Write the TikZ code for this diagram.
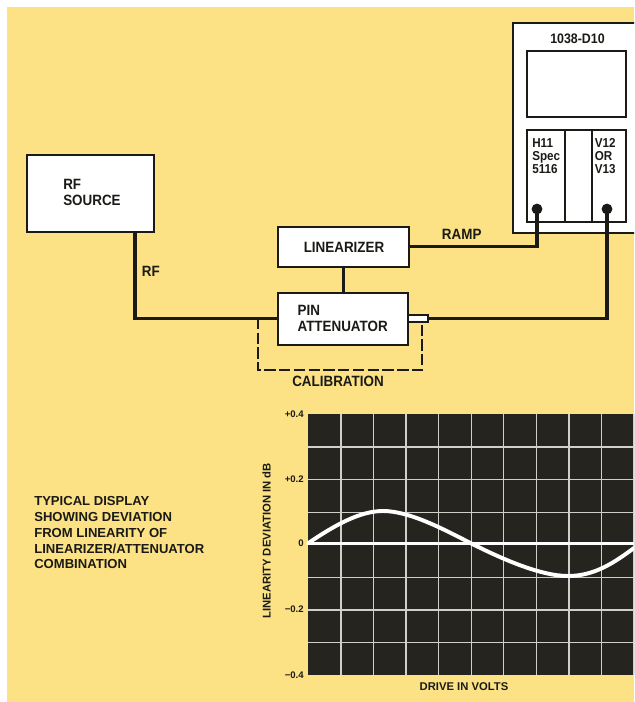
\documentclass[tikz,border=0pt]{standalone}
\usepackage{fontspec}
\setmainfont{Liberation Sans}
\newfontfamily\narrowsans{Liberation Sans}[FakeStretch=0.9]
\usetikzlibrary{positioning, calc}
\definecolor{paper}{RGB}{252, 226, 132}
\definecolor{ink}{RGB}{26, 26, 22}
\definecolor{screenbg}{RGB}{38, 36, 30}
\definecolor{gridline}{RGB}{208, 208, 200}

\tikzset{
    block/.style={draw=ink, line width=1.4pt, fill=white, inner sep=0pt},
    wire/.style={draw=ink, line width=2.2pt},
    calib/.style={draw=ink, line width=1.5pt, dash pattern=on 8pt off 2.5pt},
    term/.style={circle, fill=ink, minimum size=0.27cm, inner sep=0pt},
    lbl/.style={font=\narrowsans\bfseries\fontsize{10.6}{11.4}\selectfont, text=ink, inner sep=0pt, align=left},
    small/.style={font=\narrowsans\bfseries\fontsize{9.2}{9.4}\selectfont, text=ink, inner sep=0pt, align=left},
    axis/.style={font=\bfseries\fontsize{8}{9}\selectfont, text=ink, inner sep=0pt},
    tick/.style={font=\bfseries\fontsize{6.8}{8}\selectfont, text=ink, inner sep=0pt, anchor=east}
}

\begin{document}
\begin{tikzpicture}[x=0.025cm, y=-0.025cm]
    \useasboundingbox (0,0) rectangle (634,702);
    \clip (0,0) rectangle (634,702);
    \fill[white] (0,0) rectangle (634,702);
    \fill[paper] (7,7) rectangle (634,702);

    \node[block, minimum width=3.675cm, minimum height=5.25cm] (scope) at (586.5,128) {};
    \node[small, font=\narrowsans\bfseries\fontsize{9.8}{10}\selectfont] (scopename) at (577.5,39) {1038-D10};
    \node[block, minimum width=2.475cm, minimum height=1.65cm] (screen) at (576.5,84) {};
    \node[block, minimum width=2.475cm, minimum height=2.3cm] (panel) at (576.5,176) {};
    \draw[ink, line width=1.4pt] (565,130) -- (565,222) (592,130) -- (592,222);
    \node[small, anchor=west] (hin) at (532,156) {H11\\Spec\\5116};
    \node[small, anchor=west] (vin) at (594.5,156) {V12\\OR\\V13};
    \node[term] (hterm) at (537,209) {};
    \node[term] (vterm) at (607,209) {};

    \node[block, minimum width=3.175cm, minimum height=1.925cm] (rf) at (90.5,193.5) {};
    \node[lbl, anchor=west] (rfname) at (63,192) {RF\\SOURCE};
    \node[block, minimum width=3.275cm, minimum height=1cm] (lin) at (343.5,246.7) {};
    \node[lbl] (linname) at (344,247) {LINEARIZER};
    \node[block, minimum width=3.25cm, minimum height=1.31cm] (pin) at (343.3,318.8) {};
    \node[lbl, anchor=west] (pinname) at (297.3,318.7) {PIN\\ATTENUATOR};
    \node[block, line width=1.1pt, minimum width=0.48cm, minimum height=0.18cm] (stub) at (418.2,318.5) {};

    \draw[wire] ($(rf.south east)+(-20,0)$) |- (pin.west);
    \draw[wire] (lin.south) -- (lin.south |- pin.north);
    \draw[wire] (hterm.center) |- (lin.east);
    \draw[wire] (vterm.center) |- (stub.east);
    \draw[calib] ($(pin.west)+(-19.5,-1)$) -- ++(0,52.5) -| ([xshift=0.09cm]stub.south);

    \node[lbl, anchor=west] (rflbl) at (141.7,271) {RF};
    \node[lbl] (ramplbl) at (461.7,234) {RAMP};
    \node[lbl] (callbl) at (338,381.7) {CALIBRATION};

    \node[anchor=north west, inner sep=0pt, align=left, text=ink,
        font=\bfseries\fontsize{9.3}{11.2}\selectfont] (caption) at (34,496.5)
        {TYPICAL DISPLAY\\SHOWING DEVIATION\\FROM LINEARITY OF\\LINEARIZER/ATTENUATOR\\COMBINATION};

    \fill[screenbg] (308,414) rectangle (660,675);
    \foreach \i in {1,...,10}
        \draw[gridline, line width=0.9pt] ({308.3+32.57*\i},414) -- ({308.3+32.57*\i},675);
    \foreach \j in {1,...,7}
        \draw[gridline, line width=0.9pt] (308,{414.5+32.56*\j}) -- (660,{414.5+32.56*\j});
    \draw[white, line width=1.8pt] (308,543.3) -- (660,543.3);
    \draw[white, line width=2.8pt, line cap=round] (308,543.3)
        .. controls (335,525) and (360,511) .. (383,511)
        .. controls (410,511) and (445,530) .. (471,543.3)
        .. controls (500,558) and (540,576) .. (568,576)
        .. controls (595,576) and (615,562) .. (634,548);

    \foreach \y/\t in {414/+0.4, 479.5/+0.2, 543.3/0, 609/−0.2, 675/−0.4}
        \node[tick] (tk\y) at (304,\y) {\t};
    \node[axis, rotate=90] (ylbl) at (266.7,540.8) {LINEARITY DEVIATION IN dB};
    \node[axis] (xlbl) at (464,687) {DRIVE IN VOLTS};
\end{tikzpicture}
\end{document}
